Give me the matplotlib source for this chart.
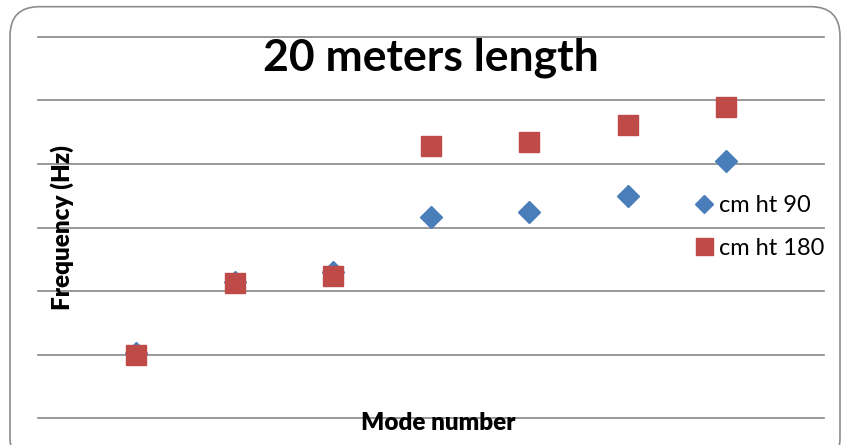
import matplotlib.pyplot as plt
from matplotlib.patches import FancyBboxPatch

plt.rcParams['font.family'] = ['Lato', 'DejaVu Sans']

# dane (os Y bez podpisow - wartosci w jednostkach siatki)
modes = [1, 2, 3, 4, 5, 6, 7]
ht90 = [1.03, 2.14, 2.30, 3.17, 3.25, 3.50, 4.05]
ht180 = [1.00, 2.12, 2.24, 4.28, 4.34, 4.61, 4.90]
series_names = ["cm ht 90", "cm ht 180"]

blue = "#4a7ebb"
red = "#be4b48"

fig = plt.figure(figsize=(8.42, 4.45), dpi=100)

# zaokraglona ramka wokol calego wykresu
frame = FancyBboxPatch((10 / 842, -0.05), 830 / 842, 1.035,
                       boxstyle="round,pad=0,rounding_size=0.035",
                       transform=fig.transFigure, facecolor="white",
                       edgecolor="#8c8c8c", linewidth=1.2, zorder=-1,
                       mutation_aspect=842 / 445)
fig.patches.append(frame)

ax = fig.add_axes([38 / 842, 26.7 / 445, 786 / 842, 381.6 / 445])
ax.set_facecolor("none")
ax.set_xlim(0, 8)
ax.set_ylim(0, 6)
ax.set_yticks(range(7))
ax.set_xticks([])
ax.tick_params(left=False, labelleft=False)
ax.grid(axis="y", color="#868686", linewidth=1.2)
for s in ax.spines.values():
    s.set_visible(False)
for line in ax.get_ygridlines():
    line.set_clip_on(False)

ax.plot(modes, ht90, linestyle="none", marker="D", markersize=11,
        color=blue, label=series_names[0], zorder=3)
ax.plot(modes, ht180, linestyle="none", marker="s", markersize=14.4,
        color=red, label=series_names[1], zorder=4)

fig.text(431 / 842, 1 - 58 / 445, "20 meters length", ha="center",
         va="center", fontsize=32, fontweight="bold")
fig.text(62 / 842, 1 - 228 / 445, "Frequency (Hz)", ha="center",
         va="center", rotation=90, fontsize=17.5, fontweight="heavy")
fig.text(438 / 842, 1 - 423 / 445, "Mode number", ha="center",
         va="center", fontsize=17.5, fontweight="heavy")

leg = fig.legend(loc="center left", bbox_to_anchor=(684 / 842, 1 - 227 / 445),
                 frameon=False, fontsize=17, handlelength=0.7,
                 handletextpad=0.3, labelspacing=0.9, borderpad=0,
                 markerscale=0.85)

fig.savefig("out.png", dpi=100)
